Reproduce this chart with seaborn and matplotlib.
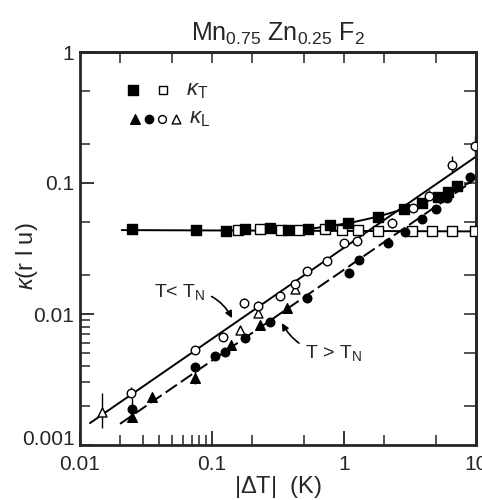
import numpy as np
import pandas as pd
import matplotlib
matplotlib.use("Agg")
import matplotlib.pyplot as plt
from matplotlib.ticker import FixedLocator, NullFormatter, FixedFormatter
import seaborn as sns

# -------------------------------
# data
# -------------------------------

# kappa_T, filled squares
kt_fill_x = [0.0247, 0.0757, 0.128, 0.178, 0.275, 0.378, 0.537, 0.784, 1.08, 1.82, 2.83, 3.88, 5.12, 6.17, 7.2]
kt_fill_y = [0.0444, 0.0435, 0.0432, 0.0445, 0.0453, 0.0435, 0.0444, 0.0478, 0.0493, 0.0553, 0.063, 0.0707, 0.0786, 0.0859, 0.0949]

# kappa_T, open squares
kt_open_x = [0.158, 0.231, 0.333, 0.456, 0.718, 0.96, 1.28, 1.82, 3.26, 4.62, 6.54, 9.8]
kt_open_y = [0.0435, 0.0444, 0.0437, 0.0440, 0.0445, 0.0437, 0.0437, 0.0430, 0.0427, 0.0427, 0.0427, 0.0427]

# kappa_L, open circles (T < TN)
kl_ocirc_x = [0.0243, 0.0743, 0.122, 0.175, 0.224, 0.327, 0.426, 0.527, 0.740, 1.0, 1.26, 2.30, 3.35, 4.43, 6.54, 9.83]
kl_ocirc_y = [0.00248, 0.00531, 0.00671, 0.0121, 0.0115, 0.0137, 0.0169, 0.0213, 0.0255, 0.0347, 0.0360, 0.0498, 0.0641, 0.0796, 0.137, 0.191]

# kappa_L, open triangles (T < TN)
kl_otri_x = [0.0146, 0.163, 0.224, 0.426]
kl_otri_y = [0.00179, 0.00755, 0.0101, 0.0155]

# kappa_L, filled circles (T > TN)
kl_fcirc_x = [0.0247, 0.0743, 0.105, 0.125, 0.178, 0.275, 0.521, 1.10, 1.31, 2.14, 2.90, 3.88, 4.98, 6.0, 9.01]
kl_fcirc_y = [0.00187, 0.00394, 0.00475, 0.00515, 0.00653, 0.00873, 0.0132, 0.0205, 0.0258, 0.035, 0.0425, 0.0528, 0.0629, 0.0764, 0.111]

# kappa_L, filled triangles (T > TN)
kl_ftri_x = [0.0247, 0.0349, 0.0743, 0.139, 0.231, 0.371]
kl_ftri_y = [0.00163, 0.00231, 0.00323, 0.0058, 0.00824, 0.0112]

# error bars (x, y_low, y_high)
err_x = [0.0146, 0.0243, 0.0247, 0.0743, 0.175, 0.224, 2.30, 4.43, 6.54, 9.83]
err_lo = [0.00135, 0.00230, 0.00150, 0.00290, 0.0112, 0.0100, 0.0453, 0.0740, 0.120, 0.160]
err_hi = [0.00250, 0.00275, 0.00230, 0.00420, 0.0132, 0.0125, 0.0540, 0.0880, 0.160, 0.228]

# fitted lines
flat_x = [0.0207, 10.0]
flat_y = [0.0437, 0.0427]
below_x = [0.0119, 10.0]          # T < TN, solid
below_y = [0.00147, 0.159]
above_x = [0.0201, 9.27]          # T > TN, dashed
above_y = [0.00145, 0.102]
kt_curve_x = [0.5, 0.8, 1.1, 1.8, 2.8]
kt_curve_y = [0.0440, 0.0472, 0.0495, 0.0553, 0.0630]
kt_dash_x = [2.8, 3.9, 5.1, 6.2, 7.5, 9.3]
kt_dash_y = [0.0630, 0.0705, 0.0785, 0.0855, 0.0930, 0.102]

# -------------------------------
# plot
# -------------------------------
sns.set_style("ticks")
plt.rcParams['font.family'] = ['Liberation Sans', 'DejaVu Sans']
plt.rcParams['mathtext.fontset'] = 'custom'
plt.rcParams['mathtext.rm'] = 'Liberation Sans'
plt.rcParams['mathtext.it'] = 'Liberation Sans:italic'

fig = plt.figure(figsize=(4.82, 5.0), dpi=100)
ax = fig.add_axes([80/482, 1-445/500, 396/482, 393/500])
ax.set_xscale('log')
ax.set_yscale('log')
ax.set_xlim(0.01, 10)
ax.set_ylim(0.001, 1)

lw = 1.4
sns.lineplot(x=flat_x, y=flat_y, color='black', lw=lw, ax=ax)
sns.lineplot(x=below_x, y=below_y, color='black', lw=lw, ax=ax)
sns.lineplot(x=above_x, y=above_y, color='black', lw=lw, ax=ax, linestyle=(0, (7, 2.5)))
sns.lineplot(x=kt_curve_x, y=kt_curve_y, color='black', lw=lw, ax=ax)
sns.lineplot(x=kt_dash_x, y=kt_dash_y, color='black', lw=lw, ax=ax, linestyle=(0, (6, 2.5)))

ax.vlines(err_x, err_lo, err_hi, color='black', lw=1.0, zorder=2)

def pts(x, y, marker, filled, s):
    sns.scatterplot(x=x, y=y, marker=marker, s=s, ax=ax, zorder=3,
                    facecolor='black' if filled else 'white',
                    edgecolor='black', linewidth=1.0)

pts(kt_open_x, kt_open_y, 's', False, 42)
pts(kt_fill_x, kt_fill_y, 's', True, 48)
pts(kl_otri_x, kl_otri_y, '^', False, 42)
pts(kl_ocirc_x, kl_ocirc_y, 'o', False, 38)
pts(kl_ftri_x, kl_ftri_y, '^', True, 48)
pts(kl_fcirc_x, kl_fcirc_y, 'o', True, 38)

# legend drawn as in the original
ax.scatter([0.0254], [0.51], marker='s', s=48, c='black', zorder=4)
ax.scatter([0.0422], [0.51], marker='s', s=40, facecolor='white', edgecolor='black', lw=1.0, zorder=4)
ax.text(0.0632, 0.51, r'$\kappa_{\rm T}$', fontsize=16, va='center', ha='left')
ax.scatter([0.0262], [0.31], marker='^', s=48, c='black', zorder=4)
ax.scatter([0.0334], [0.31], marker='o', s=36, c='black', zorder=4)
ax.scatter([0.0418], [0.31], marker='o', s=32, facecolor='white', edgecolor='black', lw=1.0, zorder=4)
ax.scatter([0.0533], [0.31], marker='^', s=40, facecolor='white', edgecolor='black', lw=1.0, zorder=4)
ax.text(0.0665, 0.31, r'$\kappa_{\rm L}$', fontsize=16, va='center', ha='left')

# annotations
ax.annotate(r'T< T$_{\rm N}$', xy=(0.142, 0.0093), xytext=(0.0573, 0.0147),
            fontsize=14, ha='center', va='center',
            arrowprops=dict(arrowstyle='-|>', color='black', lw=1.2,
                            connectionstyle='arc3,rad=-0.35', shrinkA=2, shrinkB=0,
                            mutation_scale=10))
ax.annotate(r'T > T$_{\rm N}$', xy=(0.339, 0.00853), xytext=(0.826, 0.00503),
            fontsize=14, ha='center', va='center',
            arrowprops=dict(arrowstyle='-|>', color='black', lw=1.2,
                            connectionstyle='arc3,rad=-0.3', shrinkA=2, shrinkB=0,
                            mutation_scale=10))

# ticks
for sp in ax.spines.values():
    sp.set_linewidth(2.0)
ax.xaxis.set_major_locator(FixedLocator([0.01, 0.1, 1, 10]))
ax.xaxis.set_major_formatter(FixedFormatter(['0.01', '0.1', '1', '10']))
ax.xaxis.set_minor_locator(FixedLocator([0.02, 0.03, 0.04, 0.05, 0.06, 0.07, 0.08, 0.09, 0.2, 0.5, 2, 5]))
ax.xaxis.set_minor_formatter(NullFormatter())
ax.yaxis.set_major_locator(FixedLocator([0.001, 0.01, 0.1, 1]))
ax.yaxis.set_major_formatter(FixedFormatter(['0.001', '0.01', '0.1', '1']))
ax.yaxis.set_minor_locator(FixedLocator([0.002, 0.003, 0.004, 0.005, 0.006, 0.007, 0.008, 0.009, 0.02, 0.05, 0.2, 0.5]))
ax.yaxis.set_minor_formatter(NullFormatter())
ax.tick_params(which='major', direction='in', length=10, width=1.3, labelsize=15)
ax.tick_params(axis='x', which='major', pad=7)
ax.tick_params(axis='y', which='major', pad=4)
ax.tick_params(which='minor', direction='in', length=7, width=1.1)
ax.get_yticklabels()[0].set_verticalalignment('baseline')

top = ax.secondary_xaxis('top')
top.xaxis.set_major_locator(FixedLocator([0.02, 0.05, 0.1, 0.2, 0.5, 1, 2, 5]))
top.xaxis.set_minor_locator(FixedLocator([]))
top.tick_params(which='major', direction='in', length=8, width=1.1, labeltop=False)
top.spines['top'].set_linewidth(2.0)
right = ax.secondary_yaxis('right')
right.yaxis.set_major_locator(FixedLocator([0.002, 0.005, 0.01, 0.02, 0.05, 0.1, 0.2, 0.5]))
right.yaxis.set_minor_locator(FixedLocator([]))
right.tick_params(which='major', direction='in', length=9, width=1.1, labelright=False)
right.spines['right'].set_linewidth(2.0)

ax.set_xlabel(r'|$\Delta$T|  (K)', fontsize=17, labelpad=0)
ax.set_ylabel(r'$\kappa$(r l u)', fontsize=17)
ax.yaxis.set_label_coords(-0.1, 0.48)
ax.set_title(r'Mn$_{0.75}$ Zn$_{0.25}$ F$_2$', fontsize=18, pad=8)

fig.savefig('out.png', dpi=100)
